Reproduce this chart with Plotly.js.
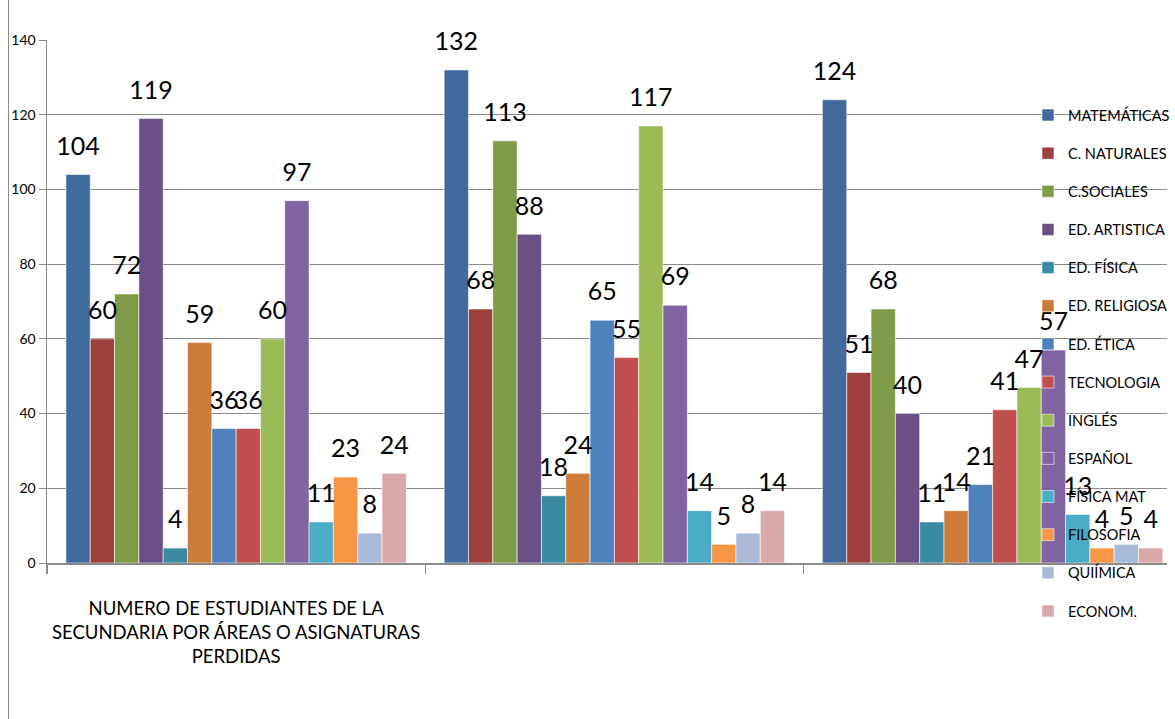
<!DOCTYPE html>
<html>
<head>
<meta charset="utf-8">
<script src="https://cdn.plot.ly/plotly-3.0.1.min.js"></script>
<style>
  html, body { margin: 0; padding: 0; background: #ffffff; overflow: hidden; }
  #wrap { position: relative; width: 1175px; height: 719px; }
  #chart { position: absolute; left: 0; top: 0; width: 1175px; height: 719px; }
  #border { position: absolute; left: 8px; top: 0; width: 0; height: 719px; border-left: 1.5px solid #8a8a8a; }
</style>
</head>
<body>
<div id="wrap">
  <div id="border"></div>
  <div id="chart"></div>
</div>
<script>
// ---- data ----
const groups = ["g1", "g2", "g3"];
const groupLabels = ["NUMERO DE ESTUDIANTES DE LA<br>SECUNDARIA POR ÁREAS O ASIGNATURAS<br>PERDIDAS", "", ""];
const seriesNames = ["MATEMÁTICAS", "C. NATURALES", "C.SOCIALES", "ED. ARTISTICA", "ED. FÍSICA", "ED. RELIGIOSA", "ED. ÉTICA", "TECNOLOGIA", "INGLÉS", "ESPAÑOL", "FÍSICA MAT", "FILOSOFIA", "QUIÍMICA", "ECONOM."];
const matematicas  = [104, 132, 124];
const cNaturales   = [60, 68, 51];
const cSociales    = [72, 113, 68];
const edArtistica  = [119, 88, 40];
const edFisica     = [4, 18, 11];
const edReligiosa  = [59, 24, 14];
const edEtica      = [36, 65, 21];
const tecnologia   = [36, 55, 41];
const ingles       = [60, 117, 47];
const espanol      = [97, 69, 57];
const fisicaMat    = [11, 14, 13];
const filosofia    = [23, 5, 4];
const quimica      = [8, 8, 5];
const econom       = [24, 14, 4];
const yTicks = [0, 20, 40, 60, 80, 100, 120, 140];

const seriesValues = [matematicas, cNaturales, cSociales, edArtistica, edFisica, edReligiosa, edEtica, tecnologia, ingles, espanol, fisicaMat, filosofia, quimica, econom];
const colors = ["#41699c", "#9e413e", "#7f9a48", "#6a5087", "#3a8ba2", "#cd7b38", "#4f81bd", "#c0504d", "#9bbb59", "#8064a2", "#4bacc6", "#f79646", "#a9bad9", "#d9a8a9"];

const FONT = "Lato, 'Open Sans', sans-serif";

const barTraces = seriesNames.map((name, i) => ({
  type: "bar",
  name: name,
  x: groups,
  y: seriesValues[i],
  legendgroup: "lg" + i,
  offsetgroup: "o" + i,
  alignmentgroup: "a",
  marker: { color: colors[i], line: { color: "rgba(255,255,255,0.7)", width: 0.8 } },
  hoverinfo: "name+y"
}));

// value labels, aligned with the grouped bars
const labelTraces = seriesNames.map((name, i) => ({
  type: "scatter",
  mode: "markers+text",
  name: name,
  x: groups,
  y: seriesValues[i],
  offsetgroup: "o" + i,
  alignmentgroup: "a",
  showlegend: false,
  legendgroup: "lg" + i,
  marker: { size: 20, opacity: 0, color: colors[i] },
  text: seriesValues[i].map(String),
  textposition: "top center",
  textfont: { family: FONT, size: 25, color: "#000000" },
  cliponaxis: false,
  hoverinfo: "skip"
}));

const layout = {
  width: 1175,
  height: 719,
  margin: { l: 47, r: 0, t: 40, b: 156 },
  paper_bgcolor: "rgba(0,0,0,0)",
  plot_bgcolor: "rgba(0,0,0,0)",
  barmode: "group",
  scattermode: "group",
  bargap: 0.1,
  bargroupgap: 0,
  showlegend: true,
  font: { family: FONT, color: "#000000" },
  xaxis: {
    type: "category",
    range: [-0.5, 2.461],
    tickmode: "array",
    tickvals: groups,
    ticktext: groupLabels,
    tickson: "boundaries",
    tickangle: 0,
    ticks: "outside",
    ticklen: 9,
    tickcolor: "#8a8a8a",
    tickwidth: 1.5,
    ticklabelstandoff: 28,
    showline: true,
    linecolor: "#8a8a8a",
    linewidth: 1.5,
    showgrid: false,
    tickfont: { family: FONT, size: 18.5, color: "#000000" },
    automargin: false,
    fixedrange: true
  },
  yaxis: {
    range: [0, 140],
    tickmode: "array",
    tickvals: yTicks,
    ticks: "outside",
    ticklen: 7,
    tickcolor: "#8a8a8a",
    tickwidth: 1,
    showline: true,
    linecolor: "#8a8a8a",
    linewidth: 1.5,
    showgrid: true,
    gridcolor: "#8a8a8a",
    gridwidth: 1,
    zeroline: false,
    tickfont: { family: FONT, size: 14, color: "#000000" },
    automargin: false,
    fixedrange: true
  },
  legend: {
    x: 0.876,
    y: 0.887,
    xanchor: "left",
    yanchor: "top",
    bgcolor: "rgba(0,0,0,0)",
    font: { family: FONT, size: 14.5, color: "#000000" },
    traceorder: "grouped",
    tracegroupgap: 16.3,
    itemwidth: 30
  }
};

Plotly.newPlot("chart", barTraces.concat(labelTraces), layout, { displayModeBar: false, staticPlot: true });
</script>
</body>
</html>
